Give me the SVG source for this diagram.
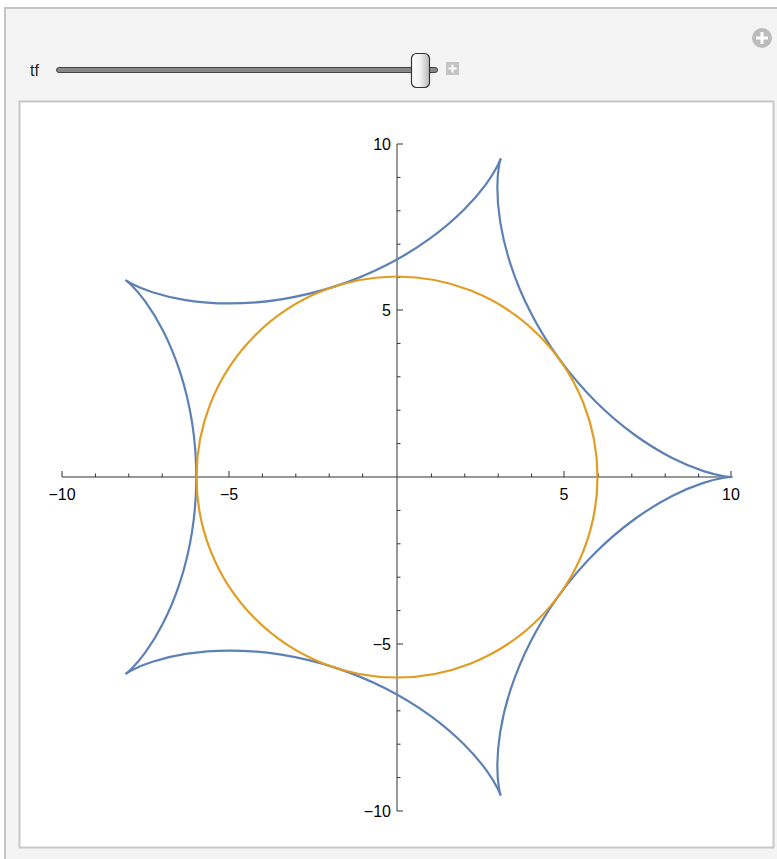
<svg xmlns="http://www.w3.org/2000/svg" xmlns:xlink="http://www.w3.org/1999/xlink" width="777" height="859" viewBox="0 0 777 859">
<style>
.lbl{font-family:"Liberation Sans",Arial,sans-serif;font-size:16px;fill:#000}
.ax{stroke:#333;stroke-width:1;fill:none}
.curve{fill:none;stroke:#5E81B5;stroke-width:0.066;stroke-linecap:round;stroke-linejoin:round}
</style>
<defs>
<linearGradient id="thumb" x1="0" y1="0" x2="1" y2="0">
<stop offset="0" stop-color="#ffffff"/>
<stop offset="0.5" stop-color="#f0f0f0"/>
<stop offset="1" stop-color="#b8b8b8"/>
</linearGradient>
<path id="half" d="M10,0 C10,0 9.92603,0.00016 9.78325,0.02277 C9.64047,0.04538 9.42905,0.09069 9.16346,0.17699 C8.89787,0.26329 8.57837,0.39073 8.22648,0.57003 C7.87459,0.74933 7.49065,0.98058 7.09934,1.26488 C6.70803,1.54918 6.30967,1.88648 5.9282,2.26795 C5.54673,2.64942 5.18239,3.07486 4.8541,3.52671"/>
<g id="arc"><use xlink:href="#half"/><use xlink:href="#half" transform="scale(1,-1)"/></g>
</defs>
<g id="frame">
<rect x="5" y="8" width="800" height="900" fill="#f4f4f4" stroke="#c4c4c4" stroke-width="2"/>
<rect x="19.5" y="101.5" width="754" height="746" fill="#ffffff" stroke="#c8c8c8" stroke-width="2"/>
</g>
<g id="controls">
<text x="30" y="76" font-family="Liberation Sans,Arial,sans-serif" font-size="16" fill="#222">tf</text>
<rect x="56.5" y="67.5" width="381" height="5" rx="2.5" fill="#888" stroke="#444" stroke-width="1"/>
<rect x="411.5" y="53.5" width="18" height="34" rx="5" fill="url(#thumb)" stroke="#333" stroke-width="1.2"/>
<rect x="446" y="62" width="13" height="13" fill="#c4c4c4"/>
<path d="M452.5,64.5 V72.5 M448.5,68.5 H456.5" stroke="#fff" stroke-width="2"/>
<circle cx="762" cy="38" r="10" fill="#bcbcbc"/>
<path d="M762,32 V44 M756,38 H768" stroke="#fff" stroke-width="3"/>
</g>
<g id="axes">
<path class="ax" d="M62,477 H731 M397,144 V811"/>
<path class="ax" d="M62,477 v-6 M229,477 v-6 M564,477 v-6 M731,477 v-6 M95.4,477 v-3.5 M128.8,477 v-3.5 M162.2,477 v-3.5 M195.6,477 v-3.5 M262.4,477 v-3.5 M295.8,477 v-3.5 M329.2,477 v-3.5 M362.6,477 v-3.5 M431.4,477 v-3.5 M464.8,477 v-3.5 M498.2,477 v-3.5 M531.6,477 v-3.5 M598.4,477 v-3.5 M631.8,477 v-3.5 M665.2,477 v-3.5 M698.6,477 v-3.5"/>
<path class="ax" d="M397,144 h6 M397,310 h6 M397,644 h6 M397,811 h6 M397,177.4 h3.5 M397,210.8 h3.5 M397,244.2 h3.5 M397,277.6 h3.5 M397,343.4 h3.5 M397,376.8 h3.5 M397,410.2 h3.5 M397,443.6 h3.5 M397,510.4 h3.5 M397,543.8 h3.5 M397,577.2 h3.5 M397,610.6 h3.5 M397,677.4 h3.5 M397,710.8 h3.5 M397,744.2 h3.5 M397,777.6 h3.5"/>
<text class="lbl" x="62" y="500" text-anchor="middle">−10</text>
<text class="lbl" x="229" y="500" text-anchor="middle">−5</text>
<text class="lbl" x="564" y="500" text-anchor="middle">5</text>
<text class="lbl" x="731" y="500" text-anchor="middle">10</text>
<text class="lbl" x="391" y="150" text-anchor="end">10</text>
<text class="lbl" x="391" y="316" text-anchor="end">5</text>
<text class="lbl" x="391" y="650" text-anchor="end">−5</text>
<text class="lbl" x="391" y="817" text-anchor="end">−10</text>
</g>
<g id="hypocycloid" transform="translate(397,477) scale(33.45,-33.4)">
<g class="curve">
<use xlink:href="#arc" transform="rotate(0)"/>
<use xlink:href="#arc" transform="rotate(72)"/>
<use xlink:href="#arc" transform="rotate(144)"/>
<use xlink:href="#arc" transform="rotate(216)"/>
<use xlink:href="#arc" transform="rotate(288)"/>
</g>
</g>
<g id="circle">
<circle cx="397" cy="477" r="200.5" fill="none" stroke="#E19C24" stroke-width="2.2"/>
</g>
</svg>
